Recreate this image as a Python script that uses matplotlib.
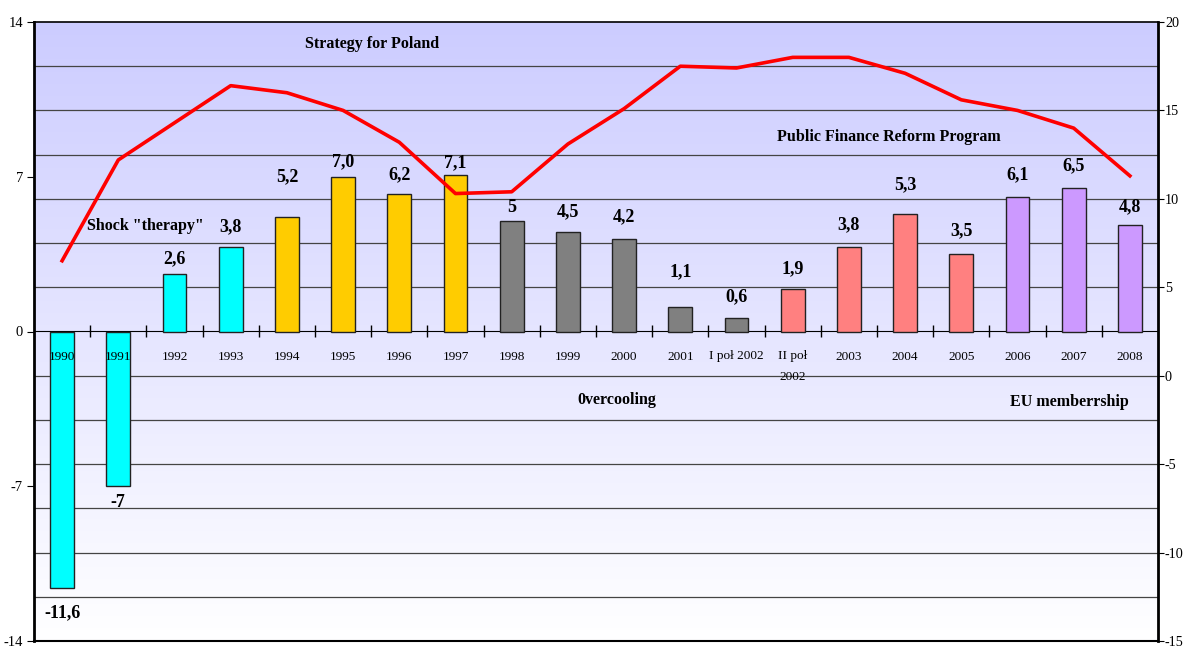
import numpy as np
import matplotlib
matplotlib.use("Agg")
import matplotlib.pyplot as plt
from matplotlib.colors import LinearSegmentedColormap
from matplotlib.ticker import MultipleLocator

plt.rcParams["font.family"] = ["Liberation Serif", "DejaVu Serif"]
plt.rcParams["axes.unicode_minus"] = False

# data
categories = ["1990", "1991", "1992", "1993", "1994", "1995", "1996", "1997",
              "1998", "1999", "2000", "2001", "I poł 2002", "II poł\n2002",
              "2003", "2004", "2005", "2006", "2007", "2008"]
gdp_growth = [-11.6, -7, 2.6, 3.8, 5.2, 7.0, 6.2, 7.1, 5, 4.5, 4.2, 1.1, 0.6,
              1.9, 3.8, 5.3, 3.5, 6.1, 6.5, 4.8]
value_labels = ["-11,6", "-7", "2,6", "3,8", "5,2", "7,0", "6,2", "7,1", "5",
                "4,5", "4,2", "1,1", "0,6", "1,9", "3,8", "5,3", "3,5", "6,1",
                "6,5", "4,8"]
unemployment = [6.5, 12.2, 14.3, 16.4, 16.0, 15.0, 13.2, 10.3, 10.4, 13.1,
                15.1, 17.5, 17.4, 18.0, 18.0, 17.1, 15.6, 15.0, 14.0, 11.3]
periods = ["shock"] * 4 + ["strategy"] * 4 + ["overcooling"] * 5 + \
          ["finance"] * 4 + ["eu"] * 3

period_colors = {"shock": "#00FFFF", "strategy": "#FFCC00",
                 "overcooling": "#808080", "finance": "#FF8080",
                 "eu": "#CC99FF"}
# label offsets (pixels) from the bar end, as placed in the original
label_offsets = [-25, -16, 15, 21, 40, 15, 20, 12, 13, 20, 22, 35, 22, 21,
                 23, 30, 23, 22, 22, 19]

x = np.arange(len(categories))

fig = plt.figure(figsize=(11.85, 6.49), dpi=100)
ax = fig.add_axes([34 / 1185, 8 / 649, 1124 / 1185, 619 / 649])

# gradient background
grad = np.linspace(0, 1, 256).reshape(-1, 1)
bg_cmap = LinearSegmentedColormap.from_list("bg", ["#FFFFFF", "#CCCCFF"])
ax.imshow(grad, extent=[0, 1, 0, 1], transform=ax.transAxes, origin="lower",
          aspect="auto", cmap=bg_cmap, zorder=0)

ax.bar(x, gdp_growth, width=0.42, color=[period_colors[p] for p in periods],
       edgecolor="#222222", linewidth=1, zorder=3)

ax.set_xlim(-0.5, len(categories) - 0.5)
ax.set_ylim(-14, 14)
ax.set_yticks([-14, -7, 0, 7, 14])
ax.yaxis.set_minor_locator(MultipleLocator(2))
ax.grid(axis="y", which="minor", color="#444444", linewidth=0.9)
ax.set_axisbelow(True)
ax.set_xticks([])
ax.tick_params(axis="y", which="major", length=5, labelsize=10.5, pad=3)
ax.tick_params(axis="y", which="minor", length=0)
for side in ["left", "top", "bottom"]:
    ax.spines[side].set_color("black")
ax.spines["left"].set_linewidth(2)
ax.spines["top"].set_linewidth(1.2)
ax.spines["bottom"].set_linewidth(1.5)
ax.spines["right"].set_visible(False)

# zero line with category separators
zero_axis = ax.secondary_xaxis(0.5)
zero_axis.set_xticks(x[:-1] + 0.5)
zero_axis.set_xticklabels([])
zero_axis.tick_params(direction="inout", length=9, width=1)
zero_axis.spines["bottom"].set_linewidth(1.2)

for i, cat in enumerate(categories):
    ax.annotate(cat, (i, 0), xytext=(0, -19), textcoords="offset pixels",
                ha="center", va="top", fontsize=9.5, linespacing=1.95, zorder=4)

for i, (v, lbl) in enumerate(zip(gdp_growth, value_labels)):
    ax.annotate(lbl, (i, v), xytext=(0, label_offsets[i]),
                textcoords="offset pixels", ha="center", va="center",
                fontsize=13, fontweight="bold", zorder=6)

note_style = dict(ha="center", va="center", fontsize=11.5, fontweight="bold")
ax.text(5.51, 13.0, "Strategy for Poland", **note_style)
ax.text(1.49, 4.77, 'Shock "therapy"', **note_style)
ax.text(14.71, 8.8, "Public Finance Reform Program", **note_style)
ax.text(9.87, -3.08, "0vercooling", **note_style)
ax.text(17.93, -3.2, "EU memberrship", **note_style)

ax2 = ax.twinx()
ax2.plot(x, unemployment, color="#FF0000", linewidth=2.6, zorder=5)
ax2.set_ylim(-15, 20)
ax2.set_yticks(range(-15, 21, 5))
ax2.tick_params(axis="y", length=4, labelsize=10.2, pad=1)
ax2.spines["right"].set_linewidth(2)
ax2.spines["right"].set_color("black")
for side in ["left", "top", "bottom"]:
    ax2.spines[side].set_visible(False)

fig.savefig("out.png", dpi=100)
